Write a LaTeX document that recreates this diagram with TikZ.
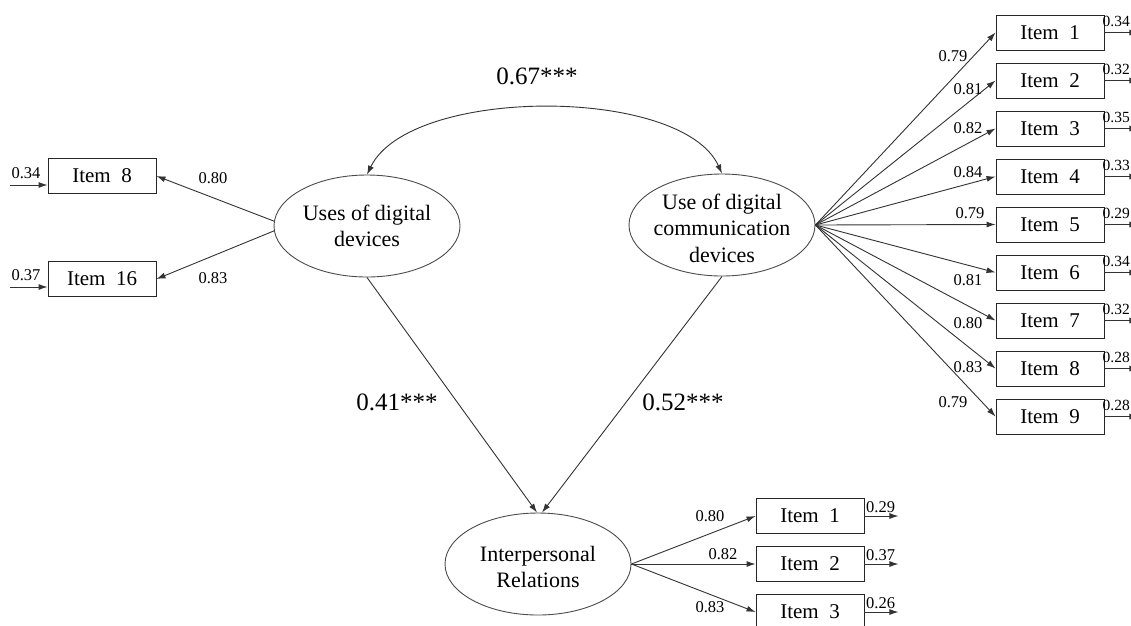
\documentclass[tikz,border=0pt]{standalone}
\usepackage{fontspec}
\setmainfont{Liberation Serif}
\usetikzlibrary{shapes.geometric,arrows.meta}
\begin{document}
\begin{tikzpicture}[x=1pt,y=-1pt,
  ln/.style={draw=black!80, line width=0.9pt},
  arr/.style={ln,-{Latex[length=9pt,width=6pt]}},
  dbl/.style={ln,{Latex[length=9pt,width=6pt]}-{Latex[length=9pt,width=6pt]}},
  latent/.style={ellipse, draw=black!70, line width=0.9pt, minimum width=186pt, minimum height=102pt, inner sep=0pt},
  ltext/.style={font=\fontsize{22}{26.5}\selectfont, align=center, inner sep=0pt},
  itembox/.style={rectangle, draw=black!85, line width=0.9pt, minimum width=108pt, minimum height=35pt, inner sep=0pt, font=\fontsize{21}{25}\selectfont},
  sm/.style={font=\fontsize{16.5}{20}\selectfont, inner sep=0pt},
  smr/.style={font=\fontsize{15.5}{19}\selectfont, inner sep=0pt},
  big/.style={font=\fontsize{25}{30}\selectfont, inner sep=0pt}]
\useasboundingbox (0,0) rectangle (1131,625);
\clip (0,0) rectangle (1131,625);
\fill[white] (0,0) rectangle (1131,625);

% latent variables
\node[latent, label={[ltext]center:{Uses of digital\\devices}}] (UD) at (367,226) {};
\node[latent, label={[ltext, yshift=-3pt]center:{Use of digital\\communication\\devices}}] (UC) at (722,225) {};
\node[latent, label={[ltext, yshift=-3pt]center:{Interpersonal\\Relations}}] (IR) at (538,564) {};

% covariance
\draw[dbl] (UD.north) .. controls (410,86) and (682,86) .. (UC.north);
\node[big] (cov) at (537,76) {0.67***};

% structural paths
\draw[arr] (UD.south) -- ([xshift=-1pt]IR.north);
\draw[arr] (UC.south) -- ([xshift=4pt]IR.north);
\node[big] (p1) at (397,402) {0.41***};
\node[big] (p2) at (683,402) {0.52***};

% left indicators
\node[itembox] (L8) at (102,176) {Item\ \ 8};
\node[itembox] (L16) at (102,279) {Item\ \ 16};
\draw[arr] (UD.177) -- (L8.east);
\draw[arr] (UD.183) -- (L16.east);
\node[sm] (l8) at (213,178) {0.80};
\node[sm] (l16) at (213,278) {0.83};
\coordinate (e8) at (10,185);
\coordinate (e16) at (10,287);
\draw[arr] (e8) -- (e8 -| L8.west);
\draw[arr] (e16) -- (e16 -| L16.west);
\node[sm] (el8) at (26,173) {0.34};
\node[sm] (el16) at (26,275) {0.37};

% right indicators
\foreach \k/\l/\e/\lx/\ly in {1/0.79/0.34/953/56, 2/0.81/0.32/968/89, 3/0.82/0.35/968/128, 4/0.84/0.33/968/172, 5/0.79/0.29/970/213, 6/0.81/0.34/968/280, 7/0.80/0.32/968/323, 8/0.83/0.28/968/367, 9/0.79/0.28/953/402}{
  \node[itembox] (R\k) at (1050,{32.5+48*(\k-1)}) {Item\ \ \k};
  \draw[arr] (UC.east) -- (R\k.west);
  \node[sm] (rl\k) at (\lx,\ly) {\l};
  \coordinate (re\k) at ([xshift=34pt]R\k.east);
  \draw[arr] (R\k.east) -- (re\k);
  \node[smr, anchor=west] (rel\k) at (1102.5,{21+48*(\k-1)}) {\e};
}

% bottom indicators
\foreach \k/\l/\e/\lx/\ly in {1/0.80/0.29/710/516, 2/0.82/0.37/723/554, 3/0.83/0.26/710/607}{
  \node[itembox] (B\k) at (810,{516+48*(\k-1)}) {Item\ \ \k};
  \draw[arr] (IR.east) -- (B\k.west);
  \node[sm] (bl\k) at (\lx,\ly) {\l};
  \coordinate (be\k) at ([xshift=34pt]B\k.east);
  \draw[arr] (B\k.east) -- (be\k);
  \node[sm, anchor=west] (bel\k) at (866,{507+48*(\k-1)}) {\e};
}
\end{tikzpicture}
\end{document}
